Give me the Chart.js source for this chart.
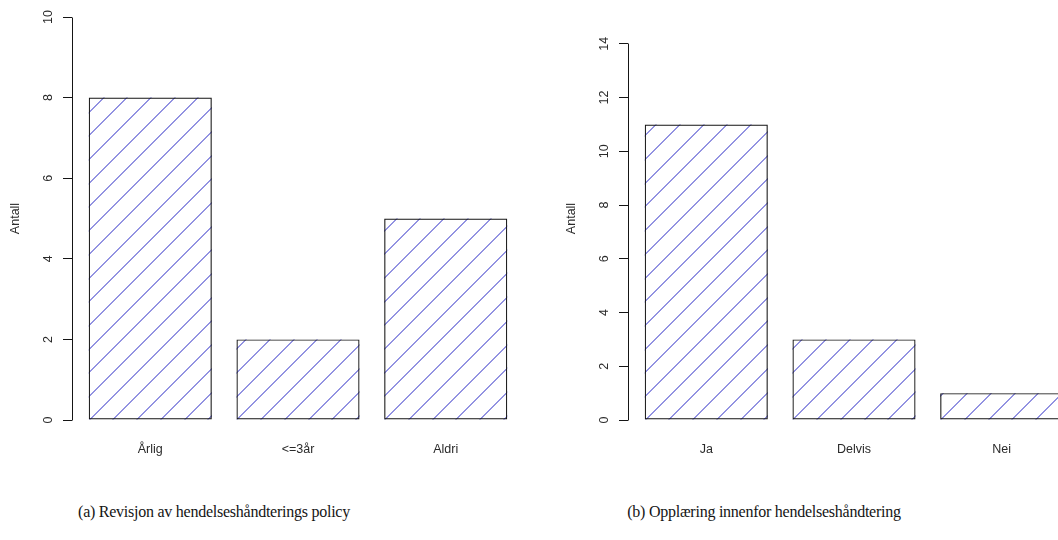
<!DOCTYPE html>
<html lang="no">
<head>
<meta charset="utf-8">
<title>Hendelseshåndtering</title>
<script src="https://cdn.jsdelivr.net/npm/chart.js@4.4.1/dist/chart.umd.min.js"></script>
<style>
  html, body { margin: 0; padding: 0; width: 1058px; height: 540px; overflow: hidden; background: #ffffff; }
  .panel { position: absolute; top: 0; }
  .caption {
    position: absolute; top: 503px; line-height: 18px;
    font-family: "Liberation Serif", "DejaVu Serif", serif; font-size: 16px; letter-spacing: -0.25px;
    color: #141414; white-space: nowrap; transform: translateX(-50%);
  }
</style>
</head>
<body>
<canvas id="revisjon" class="panel" width="529" height="470" style="left:0px"></canvas>
<canvas id="opplaering" class="panel" width="529" height="470" style="left:556px"></canvas>
<div class="caption" style="left:214px">(a) Revisjon av hendelseshåndterings policy</div>
<div class="caption" style="left:764px">(b) Opplæring innenfor hendelseshåndtering</div>
<script>
// (a) how often the incident-handling policy is revised
const revisionCategories = ['Årlig', '<=3år', 'Aldri'];
const revisionCounts = [8, 2, 5];
const revisionTicks = [0, 2, 4, 6, 8, 10];
const revisionYLimit = 10;

// (b) training in incident handling
const trainingCategories = ['Ja', 'Delvis', 'Nei'];
const trainingCounts = [11, 3, 1];
const trainingTicks = [0, 2, 4, 6, 8, 10, 12, 14];
const trainingYLimit = 15;

const yTitle = 'Antall';

// barplot geometry: unit-width bars, 0.2 gap, x range widened by 4 %
const BAR_SPACE = 0.2;
const X_PAD = 0.04;

const INK = '#151515';
const TEXT = '#2a2a2a';
const HATCH = '#2626c4';
const HATCH_STEP = 23.7;   // horizontal distance between hatch lines, px
const LABEL_FONT = { family: '"Liberation Sans", Arial, sans-serif', size: 12.5 };

// x range like R's barplot: first bar centre sits (0.5 + pad) units inside the axis
function barplotSpan(scale) {
  const n = scale.getLabels().length;
  const pitch = 1 + BAR_SPACE;
  const pad = X_PAD * (n * pitch - BAR_SPACE);
  scale._startValue = -(0.5 + pad) / pitch;
  scale._valueRange = (n * pitch - BAR_SPACE + 2 * pad) / pitch;
}

// 45° shading lines inside every bar, anchored at its lower-left corner
const hatchPlugin = {
  id: 'hatch',
  beforeDatasetsDraw(chart) {
    const ctx = chart.ctx;
    chart.getSortedVisibleDatasetMetas().forEach(meta => {
      meta.data.forEach(bar => {
        const p = bar.getProps(['x', 'y', 'base', 'width'], true);
        const left = p.x - p.width / 2;
        const top = Math.min(p.y, p.base);
        const bottom = Math.max(p.y, p.base);
        const w = p.width, h = bottom - top;
        const yb = Math.round(bottom);
        ctx.save();
        ctx.beginPath();
        ctx.rect(left, top, w, h);
        ctx.clip();
        ctx.strokeStyle = HATCH;
        ctx.lineWidth = 1;
        ctx.beginPath();
        const kMin = -Math.ceil(h / HATCH_STEP) - 1;
        const kMax = Math.ceil(w / HATCH_STEP) + 1;
        for (let k = kMin; k <= kMax; k++) {
          // same sub-pixel phase for every line, so they all render alike
          const x0 = Math.round(left + k * HATCH_STEP) + 0.5;
          ctx.moveTo(x0, yb);
          ctx.lineTo(x0 + h + 2, yb - h - 2);
        }
        ctx.stroke();
        ctx.restore();
      });
    });
  }
};

// value axis line running from the first to the last tick only
const axisLinePlugin = {
  id: 'axisLine',
  afterDraw(chart) {
    const scale = chart.scales.y;
    const ticks = scale.ticks;
    if (!ticks.length) return;
    const ctx = chart.ctx;
    const x = Math.round(scale.right - 0.5) + 0.5;
    const y0 = Math.round(scale.getPixelForValue(ticks[0].value) - 0.5) + 0.5;
    const y1 = Math.round(scale.getPixelForValue(ticks[ticks.length - 1].value) - 0.5) + 0.5;
    ctx.save();
    ctx.strokeStyle = INK;
    ctx.lineWidth = 1;
    ctx.beginPath();
    ctx.moveTo(x, y0);
    ctx.lineTo(x, y1);
    ctx.stroke();
    ctx.restore();
  }
};

function makeBarChart(canvasId, categories, counts, tickValues, yLimit) {
  return new Chart(document.getElementById(canvasId), {
    type: 'bar',
    data: {
      labels: categories,
      datasets: [{
        data: counts,
        backgroundColor: 'rgba(0,0,0,0)',
        borderColor: INK,
        borderWidth: 1.2,
        borderSkipped: false,
        barPercentage: 1 / (1 + BAR_SPACE),
        categoryPercentage: 1
      }]
    },
    options: {
      responsive: false,
      animation: false,
      devicePixelRatio: 1,
      layout: { padding: { left: 0, top: 17, right: 5, bottom: 0 } },
      plugins: { legend: { display: false }, tooltip: { enabled: false } },
      scales: {
        x: {
          type: 'category',
          offset: true,
          grid: { display: false, drawTicks: false },
          border: { display: false },
          ticks: { font: LABEL_FONT, color: TEXT, padding: 22, maxRotation: 0, autoSkip: false },
          afterBuildTicks: barplotSpan,
          afterFit: s => { s.height = 50; }
        },
        y: {
          min: 0,
          max: yLimit,
          grid: { display: true, drawOnChartArea: false, drawTicks: true, tickLength: 9, color: INK, lineWidth: 1 },
          border: { display: false },
          ticks: {
            font: LABEL_FONT, color: TEXT, padding: 8,
            minRotation: 90, maxRotation: 90, crossAlign: 'center', includeBounds: false
          },
          afterBuildTicks: s => { s.ticks = tickValues.map(value => ({ value })); },
          title: { display: true, text: yTitle, font: LABEL_FONT, color: TEXT, padding: { top: 8, bottom: 0 } },
          afterFit: s => { s.width = 72; }
        }
      }
    },
    plugins: [hatchPlugin, axisLinePlugin]
  });
}

makeBarChart('revisjon', revisionCategories, revisionCounts, revisionTicks, revisionYLimit);
makeBarChart('opplaering', trainingCategories, trainingCounts, trainingTicks, trainingYLimit);
</script>
</body>
</html>
